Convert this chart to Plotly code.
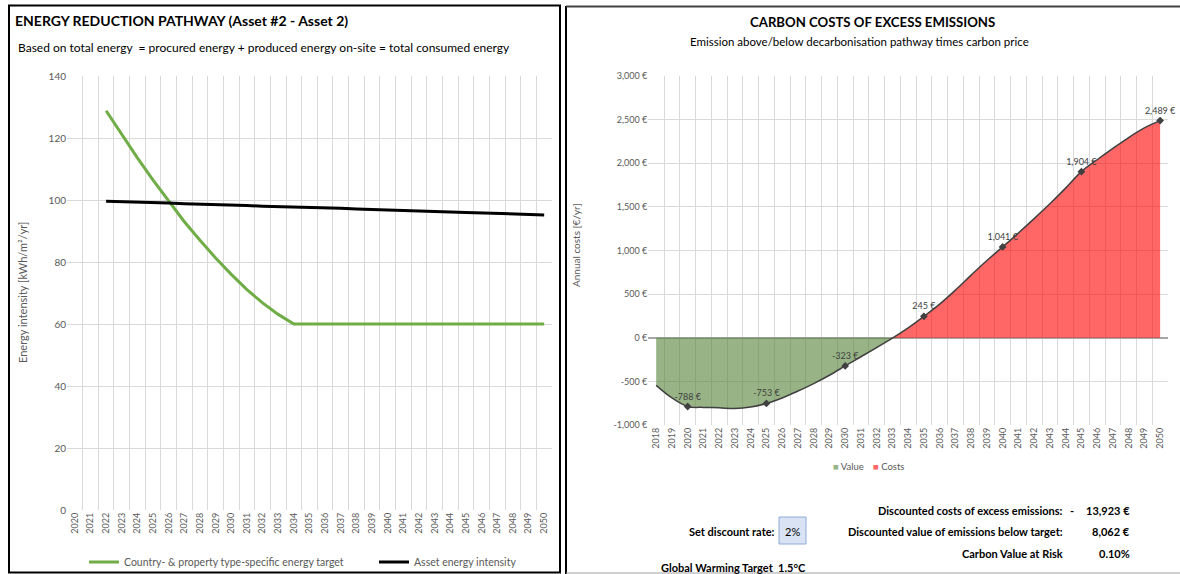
import plotly.graph_objects as go

W, H = 1180, 574
FONT = "Lato"
GRAY = "#595959"
GRID = "#D9D9D9"

# ---------------- Left chart data ----------------
left_years = [str(y) for y in range(2020, 2051)]
target_years = [str(y) for y in range(2022, 2051)]
target_values = [128.8, 121.1, 113.6, 106.4, 99.5, 93.0, 87.0, 81.3, 76.0, 71.1, 66.8, 63.1, 60.0,
                 60.0, 60.0, 60.0, 60.0, 60.0, 60.0, 60.0, 60.0, 60.0, 60.0, 60.0, 60.0, 60.0, 60.0, 60.0, 60.0]
asset_values = [99.6, 99.5, 99.3, 99.2, 99.0, 98.8, 98.7, 98.5, 98.4, 98.2, 98.0, 97.9, 97.7, 97.6, 97.4,
                97.3, 97.1, 96.9, 96.8, 96.6, 96.5, 96.3, 96.1, 96.0, 95.8, 95.7, 95.5, 95.4, 95.2]
left_yticks = [0, 20, 40, 60, 80, 100, 120, 140]

# ---------------- Right chart data ----------------
right_years = [str(y) for y in range(2018, 2051)]
cost_values = [-546, -690, -788, -798, -803, -812, -795, -753, -690, -610, -525, -430, -323, -218, -112, -5,
               113, 245, 385, 546, 718, 885, 1041, 1200, 1365, 1535, 1715, 1904, 2040, 2170, 2295, 2405, 2489]
label_years = ["2020", "2025", "2030", "2035", "2040", "2045", "2050"]
right_yticks = [-1000, -500, 0, 500, 1000, 1500, 2000, 2500, 3000]
right_yticklabels = ["-1,000 €", "-500 €", "0 €", "500 €", "1,000 €", "1,500 €", "2,000 €", "2,500 €", "3,000 €"]

value_part = [min(v, 0) for v in cost_values]
costs_part = [max(v, 0) for v in cost_values]
label_values = [cost_values[right_years.index(y)] for y in label_years]
label_texts = [f"{v:,} €" for v in label_values]


def px(x):
    return x / W


def py(y):
    return 1 - y / H


fig = go.Figure()

# Left chart traces
fig.add_trace(go.Scatter(x=target_years, y=target_values, mode="lines",
                         line=dict(color="#70AD47", width=3),
                         name="Country- & property type-specific energy target",
                         xaxis="x", yaxis="y", legend="legend"))
fig.add_trace(go.Scatter(x=target_years, y=asset_values, mode="lines",
                         line=dict(color="#000000", width=3),
                         name="Asset energy intensity",
                         xaxis="x", yaxis="y", legend="legend"))

# Right chart traces
fig.add_trace(go.Scatter(x=right_years, y=value_part, mode="lines", fill="tozeroy",
                         line=dict(width=0, color="rgba(84,130,53,0.6)"),
                         fillcolor="rgba(84,130,53,0.6)", name="Value", showlegend=False,
                         xaxis="x2", yaxis="y2"))
fig.add_trace(go.Scatter(x=right_years, y=costs_part, mode="lines", fill="tozeroy",
                         line=dict(width=0, color="rgba(255,0,0,0.6)"),
                         fillcolor="rgba(255,0,0,0.6)", name="Costs", showlegend=False,
                         xaxis="x2", yaxis="y2"))
fig.add_trace(go.Scatter(x=right_years, y=cost_values, mode="lines",
                         line=dict(color="#404040", width=1.5, shape="spline"),
                         showlegend=False, xaxis="x2", yaxis="y2"))
fig.add_trace(go.Scatter(x=label_years, y=label_values, mode="markers+text",
                         marker=dict(symbol="diamond", size=6, color="#404040"),
                         text=label_texts, textposition="top center",
                         textfont=dict(size=9, color="#404040", family=FONT),
                         showlegend=False, xaxis="x2", yaxis="y2", cliponaxis=False))

axis_common = dict(showgrid=True, gridcolor=GRID, gridwidth=1, tickfont=dict(size=9, color=GRAY, family=FONT),
                   ticks="", showline=False, zeroline=False, automargin=False)

fig.update_layout(
    width=W, height=H,
    margin=dict(l=0, r=0, t=0, b=0, pad=0, autoexpand=False),
    paper_bgcolor="white", plot_bgcolor="white",
    font=dict(family=FONT, color=GRAY),
    xaxis=dict(type="category", domain=[px(67), px(552)], anchor="y",
               categoryorder="array", categoryarray=left_years, tickangle=-90,
               tickson="boundaries", range=[-0.5, len(left_years) - 0.5], **axis_common),
    yaxis=dict(domain=[py(510), py(76)], range=[0, 140], tickvals=left_yticks, anchor="x",
               showgrid=True, gridcolor=GRID, tickfont=dict(size=10, color=GRAY, family=FONT),
               zeroline=False, ticks="", showline=False, automargin=False),
    xaxis2=dict(type="category", domain=[px(648.3), px(1168)], anchor="y2",
                categoryorder="array", categoryarray=right_years, tickangle=-90,
                tickson="boundaries", range=[-0.5, len(right_years) - 0.5], **axis_common),
    yaxis2=dict(domain=[py(425), py(76)], range=[-1000, 3000], tickvals=right_yticks,
                ticktext=right_yticklabels, anchor="x2", showgrid=True, gridcolor=GRID,
                tickfont=dict(size=9, color=GRAY, family=FONT), zeroline=True,
                zerolinecolor="#A6A6A6", zerolinewidth=1.5, ticks="", showline=False, automargin=False),
    legend=dict(orientation="h", x=px(84), xanchor="left", y=py(562), yanchor="middle",
                font=dict(size=10.5, color=GRAY, family=FONT), entrywidth=245, entrywidthmode="pixels",
                itemwidth=30, bgcolor="rgba(0,0,0,0)", tracegroupgap=0),
)

# Panel borders
fig.add_shape(type="rect", xref="paper", yref="paper", x0=px(9), x1=px(560), y0=py(572.5), y1=py(5.5),
              line=dict(color="#000000", width=2), fillcolor="rgba(0,0,0,0)", layer="above")
fig.add_shape(type="line", xref="paper", yref="paper", x0=px(566), x1=px(566), y0=py(574), y1=py(6),
              line=dict(color="#000000", width=2))
fig.add_shape(type="line", xref="paper", yref="paper", x0=px(566), x1=1, y0=py(6.5), y1=py(6.5),
              line=dict(color="#404040", width=2))
fig.add_shape(type="line", xref="paper", yref="paper", x0=px(566), x1=1, y0=py(573), y1=py(573),
              line=dict(color="#A0A0A0", width=1))

# Discount-rate box
fig.add_shape(type="rect", xref="paper", yref="paper", x0=px(779), x1=px(806), y0=py(544), y1=py(517),
              line=dict(color="#8EAADB", width=1), fillcolor="#DAE3F3")


def ann(text, x, y, size, color="#000000", bold=False, xanchor="left", angle=0):
    fig.add_annotation(text=f"<b>{text}</b>" if bold else text, xref="paper", yref="paper",
                       x=px(x), y=py(y), xanchor=xanchor, yanchor="middle", showarrow=False,
                       textangle=angle, font=dict(size=size, color=color, family=FONT))


ann("ENERGY REDUCTION PATHWAY (Asset #2 - Asset 2)", 13, 20, 14, bold=True)
ann("Based on total energy  = procured energy + produced energy on-site = total consumed energy", 16, 48, 12)
ann("Energy intensity [kWh/m²/yr]", 22, 293, 11, color=GRAY, xanchor="center", angle=-90)

ann("CARBON COSTS OF EXCESS EMISSIONS", 872, 22, 13.2, bold=True, xanchor="center")
ann("Emission above/below decarbonisation pathway times carbon price", 859, 42, 11.5, xanchor="center")
ann("Annual costs [€/yr]", 576, 245, 10, color=GRAY, xanchor="center", angle=-90)

# Right chart legend
ann("<span style='color:#98B486'>■</span> Value", 831, 466, 9.5, color=GRAY)
ann("<span style='color:#FF6666'>■</span> Costs", 871, 466, 9.5, color=GRAY)

BS = 11
ann("Discounted costs of excess emissions:", 1065, 510, BS, bold=True, xanchor="right")
ann("-", 1072, 510, BS, bold=True, xanchor="center")
ann("13,923 €", 1132, 510, BS, bold=True, xanchor="right")
ann("Set discount rate:", 777, 531, BS, bold=True, xanchor="right")
ann("2%", 792.5, 531, BS, xanchor="center")
ann("Discounted value of emissions below target:", 1065, 531, BS, bold=True, xanchor="right")
ann("8,062 €", 1132, 531, BS, bold=True, xanchor="right")
ann("Carbon Value at Risk", 1065, 553, BS, bold=True, xanchor="right")
ann("0.10%", 1132, 553, BS, bold=True, xanchor="right")
ann("Global Warming Target  1.5°C", 659, 567, BS, bold=True)

fig.write_html("out.html", config={"displayModeBar": False},
               post_script="document.body.style.margin='0';document.body.style.overflow='hidden';")
